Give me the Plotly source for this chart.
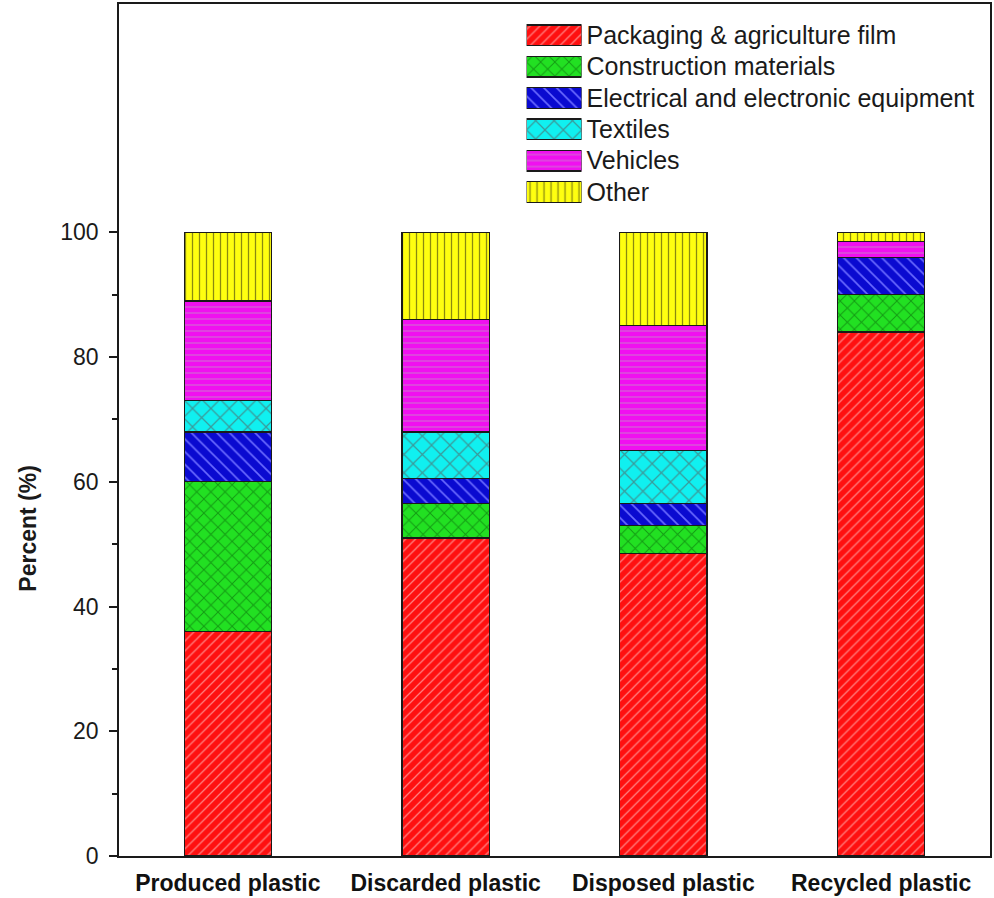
import plotly.graph_objects as go

# Plastic streams shown on the x axis
categories = ["Produced plastic", "Discarded plastic", "Disposed plastic", "Recycled plastic"]

# Share of each end-use sector (%), stacked bottom to top
packaging = [36.0, 51.0, 48.5, 84.0]
construction = [24.0, 5.5, 4.5, 6.0]
electrical = [8.0, 4.0, 3.5, 6.0]
textiles = [5.0, 7.5, 8.5, 0.0]
vehicles = [16.0, 18.0, 20.0, 2.5]
other = [11.0, 14.0, 15.0, 1.5]

series_names = [
    "Packaging & agriculture film",
    "Construction materials",
    "Electrical and electronic equipment",
    "Textiles",
    "Vehicles",
    "Other",
]
series_values = [packaging, construction, electrical, textiles, vehicles, other]

y_ticks = [0, 20, 40, 60, 80, 100]
y_minor_ticks = [10, 30, 50, 70, 90]

# Fill, hatch colour and hatch shape per sector
fills = ["#ff1010", "#22e022", "#0a0ad0", "#10f0f0", "#f010f0", "#ffff10"]
hatch_colors = ["#ff8080", "#139a13", "#6a6aff", "#3a9a9a", "#d070d0", "#8a8a10"]
hatch_shapes = ["/", "x", "\\", "x", "-", "|"]
hatch_sizes = [7, 10, 9, 13, 6, 7]

FONT = "Liberation Sans, Arial, sans-serif"
INK = "#1a1a1a"


def hatched(fc, hc, hs, hz):
    return dict(color=fc, line=dict(color=INK, width=1.3),
                pattern=dict(shape=hs, fgcolor=hc, bgcolor=fc, size=hz,
                             solidity=0.18, fillmode="replace"))


fig = go.Figure()

for name, vals, fc, hc, hs, hz in zip(series_names, series_values, fills,
                                      hatch_colors, hatch_shapes, hatch_sizes):
    fig.add_trace(go.Bar(
        x=categories, y=vals, name=name, width=0.4, showlegend=False,
        marker=hatched(fc, hc, hs, hz), xaxis="x", yaxis="y",
    ))

# Key: one swatch per sector on a small inset axis; names are its tick labels
for name, fc, hc, hs, hz in zip(series_names, fills, hatch_colors,
                                hatch_shapes, hatch_sizes):
    fig.add_trace(go.Bar(
        x=[1], y=[name], orientation="h", width=0.66, showlegend=False,
        hoverinfo="skip", marker=hatched(fc, hc, hs, hz),
        xaxis="x2", yaxis="y2",
    ))

fig.update_layout(
    width=994, height=898,
    margin=dict(l=119, r=3, t=2, b=37),
    barmode="stack",
    plot_bgcolor="white", paper_bgcolor="white",
    font=dict(family=FONT, color=INK),
    xaxis=dict(
        range=[-0.5, 3.5], showline=True, linecolor=INK, linewidth=1.5,
        mirror=True, ticks="", showgrid=False, zeroline=False,
        tickfont=dict(family=FONT, size=23, color="#111"),
        tickprefix="<b>", ticksuffix="</b>", ticklabelstandoff=6,
    ),
    yaxis=dict(
        range=[0, 136.6], showline=True, linecolor=INK, linewidth=1.5,
        mirror=True, ticks="outside", ticklen=8, tickwidth=1.5, tickcolor=INK,
        tickvals=y_ticks, showgrid=False, zeroline=False,
        tickfont=dict(family=FONT, size=23, color=INK), ticklabelstandoff=6,
        minor=dict(tickvals=y_minor_ticks, ticks="outside", ticklen=5,
                   tickwidth=1.5, tickcolor=INK, showgrid=False),
    ),
    xaxis2=dict(domain=[0.4679, 0.531], range=[0, 1], anchor="y2",
                visible=False, fixedrange=True),
    yaxis2=dict(domain=[0.761, 0.9817], anchor="x2", side="right",
                autorange="reversed", showline=False, ticks="", showgrid=False,
                zeroline=False, ticklabelstandoff=4,
                tickfont=dict(family=FONT, size=25, color=INK)),
    annotations=[dict(
        text="<b>Percent (%)</b>", textangle=-90, showarrow=False,
        xref="paper", yref="y", x=-0.1055, y=52.5,
        xanchor="center", yanchor="middle",
        font=dict(family=FONT, size=23, color=INK),
    )],
)

fig.write_html("out.html")
